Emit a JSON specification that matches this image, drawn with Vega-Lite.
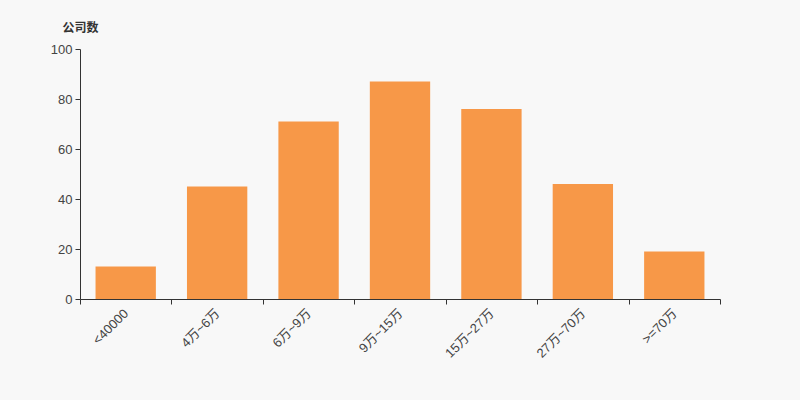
{
  "$schema": "https://vega.github.io/schema/vega-lite/v6.json",
  "width": 640,
  "height": 250,
  "autosize": {"type": "none"},
  "padding": {"left": 80, "top": 49, "right": 80, "bottom": 101},
  "background": "#f8f8f8",
  "data": {"values": [
    {"range": "<40000", "count": 13},
    {"range": "4万~6万", "count": 45},
    {"range": "6万~9万", "count": 71},
    {"range": "9万~15万", "count": 87},
    {"range": "15万~27万", "count": 76},
    {"range": "27万~70万", "count": 46},
    {"range": ">=70万", "count": 19}
  ]},
  "config": {
    "view": {"stroke": null},
    "font": "Liberation Sans, Noto Sans CJK SC"
  },
  "mark": {"type": "bar", "color": "#f79848", "width": {"band": 0.66}},
  "encoding": {
    "x": {
      "field": "range", "type": "nominal", "sort": null,
      "scale": {"paddingInner": 0, "paddingOuter": 0},
      "axis": {
        "title": null, "labelAngle": -45, "labelAlign": "right", "labelBaseline": "middle",
        "tickBand": "extent", "domainColor": "#333", "tickColor": "#333", "tickSize": 5,
        "labelColor": "#444", "labelFontSize": 13, "labelPadding": 7, "grid": false
      }
    },
    "y": {
      "field": "count", "type": "quantitative",
      "scale": {"domain": [0, 100]},
      "axis": {
        "values": [0, 20, 40, 60, 80, 100], "grid": false,
        "title": "公司数", "titleAngle": 0, "titleX": 0, "titleY": -22,
        "titleAlign": "center", "titleBaseline": "middle", "titleFontSize": 12, "titleFontWeight": "bold",
        "titleColor": "#333", "titleFont": "Noto Sans CJK SC",
        "domainColor": "#333", "tickColor": "#333", "tickSize": 5,
        "labelColor": "#444", "labelFontSize": 13, "labelPadding": 3
      }
    }
  }
}
